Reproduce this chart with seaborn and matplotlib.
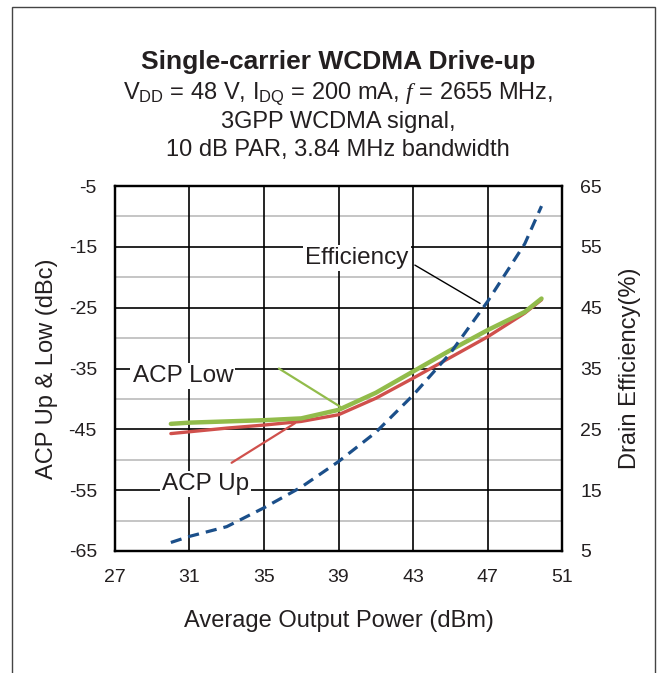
import pandas as pd
import seaborn as sns
import matplotlib.pyplot as plt
from matplotlib.patches import Rectangle

# Values
pout_acp = [30.0, 31, 33, 35, 37, 39, 41, 43, 45, 47, 49, 49.9]
acp_low = [-44.1, -43.9, -43.7, -43.5, -43.2, -41.8, -39.0, -35.5, -32.0, -28.7, -25.7, -23.5]
acp_up = [-45.7, -45.4, -44.8, -44.3, -43.7, -42.6, -39.9, -36.6, -33.2, -29.8, -25.9, -23.7]

pout_eff = [30.0, 31, 33, 35, 37, 39, 41, 43, 45, 47, 49, 49.9]
efficiency = [6.4, 7.4, 9.0, 12.1, 15.5, 19.7, 24.5, 30.6, 37.5, 46.0, 55.5, 61.7]

x_ticks = [27, 31, 35, 39, 43, 47, 51]
y_left_ticks = [-65, -55, -45, -35, -25, -15, -5]
y_right_ticks = [5, 15, 25, 35, 45, 55, 65]

acp_df = pd.DataFrame({"pout": pout_acp, "low": acp_low, "up": acp_up})
eff_df = pd.DataFrame({"pout": pout_eff, "eff": efficiency})

sns.set_style("white")
plt.rcParams["font.family"] = ["Liberation Sans", "DejaVu Sans"]
plt.rcParams["axes.unicode_minus"] = False
plt.rcParams["mathtext.fontset"] = "custom"
plt.rcParams["mathtext.rm"] = "Liberation Sans"
plt.rcParams["mathtext.it"] = "Liberation Serif:italic"

green = "#92BC4B"
red = "#D0504C"
blue = "#1B4F8A"
txt = "#231F20"

fig = plt.figure(figsize=(6.67, 6.73), dpi=100)
ax = fig.add_axes([0.1724, 0.1813, 0.6702, 0.5423])
ax2 = ax.twinx()

# grid
for v in [-60, -50, -40, -30, -20, -10]:
    ax.axhline(v, color="#BBBBBB", lw=1.2, zorder=0)
for v in y_left_ticks[1:-1]:
    ax.axhline(v, color="black", lw=1.2, zorder=1)
for v in x_ticks[1:-1]:
    ax.axvline(v, color="black", lw=1.2, zorder=1)

sns.lineplot(data=acp_df, x="pout", y="low", ax=ax, color=green, lw=3.2, zorder=4)
sns.lineplot(data=acp_df, x="pout", y="up", ax=ax, color=red, lw=2.4, zorder=3)
sns.lineplot(data=eff_df, x="pout", y="eff", ax=ax2, color=blue, lw=2.3, zorder=5)
ax2.lines[0].set_dashes([3.5, 2.2])

ax.set_xlim(27, 51)
ax.set_ylim(-65, -5)
ax2.set_ylim(5, 65)
ax.set_xticks(x_ticks)
ax.set_yticks(y_left_ticks)
ax2.set_yticks(y_right_ticks)
ax.tick_params(length=0, labelsize=14, pad=13, labelcolor=txt)
ax2.tick_params(length=0, labelsize=14, pad=13, labelcolor=txt)
ax.set_xlabel("Average Output Power (dBm)", fontsize=17, color=txt)
ax.set_ylabel("ACP Up & Low (dBc)", fontsize=17, color=txt)
ax2.set_ylabel("Drain Efficiency(%)", fontsize=17, color=txt)
ax.xaxis.set_label_coords(0.5, -0.192)
ax.yaxis.set_label_coords(-0.152, 0.5)
ax2.yaxis.set_label_coords(1.152, 0.5)
ax.xaxis.label.set_va("center")
ax.yaxis.label.set_va("center")
ax2.yaxis.label.set_va("center")
for a in (ax, ax2):
    for s in a.spines.values():
        s.set_color("black")
        s.set_linewidth(1.6)
ax2.set_zorder(ax.get_zorder() + 1)
ax2.patch.set_visible(False)

# annotations
box = dict(facecolor="white", edgecolor="none", pad=1.5)
ax.text(40.0, -16.8, "Efficiency", fontsize=17.5, color=txt, ha="center", va="center",
        bbox=box, zorder=6)
ax.plot([43.1, 46.6], [-18.0, -24.3], color="black", lw=1.0, zorder=6)
ax.text(30.65, -36.2, "ACP Low", fontsize=17.5, color=txt, ha="center", va="center",
        bbox=box, zorder=6)
ax.plot([35.8, 39.1], [-35.0, -41.3], color=green, lw=1.6, zorder=6)
ax.text(31.85, -54.0, "ACP Up", fontsize=17.5, color=txt, ha="center", va="center",
        bbox=box, zorder=6)
ax.plot([33.26, 36.66], [-50.5, -44.0], color=red, lw=1.6, zorder=6)

# titles
fig.text(0.507, 1 - 62 / 673, "Single-carrier WCDMA Drive-up", fontsize=19,
         fontweight="bold", color=txt, ha="center", va="center")
fig.text(0.507, 1 - 94 / 673,
         r"V$_{\mathrm{DD}}$ = 48 V, I$_{\mathrm{DQ}}$ = 200 mA, $\mathit{f}$ = 2655 MHz,",
         fontsize=17, color=txt, ha="center", va="center")
fig.text(0.507, 1 - 122 / 673, "3GPP WCDMA signal,", fontsize=17, color=txt,
         ha="center", va="center")
fig.text(0.507, 1 - 150 / 673, "10 dB PAR, 3.84 MHz bandwidth", fontsize=17, color=txt,
         ha="center", va="center")

# outer frame
fig.patches.append(Rectangle((12 / 667, -0.02), (655 - 12) / 667, 1.02 - 7 / 673,
                             transform=fig.transFigure, fill=False, edgecolor="#444444",
                             lw=1.0))

fig.savefig("out.png", dpi=100)
